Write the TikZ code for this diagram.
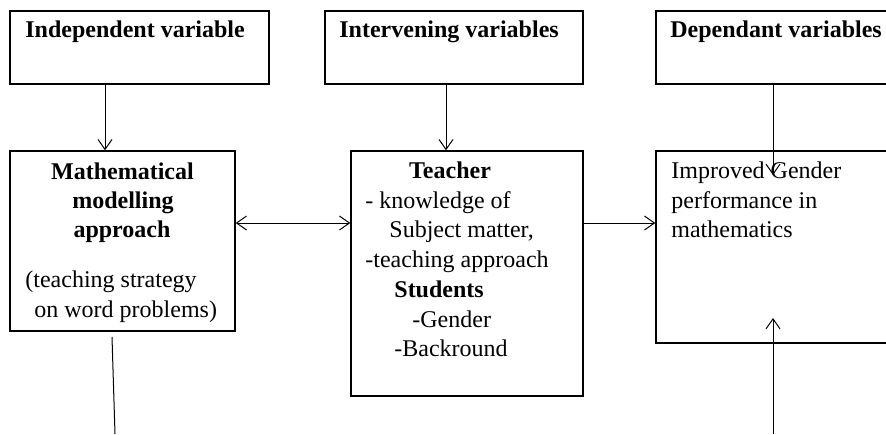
\documentclass[tikz,border=0pt]{standalone}
\usepackage{fontspec}
\setmainfont{Liberation Serif}
\usetikzlibrary{arrows.meta}

\begin{document}
\begin{tikzpicture}
		[x=0.5pt, y=-0.5pt,
		>={Straight Barb[length=5pt,width=7pt]},
		box/.style ={rectangle, draw=black, line width=0.7pt, inner sep=0pt},
		topbox/.style ={box, minimum height=36.5pt},
		txt/.style ={anchor=base west, inner sep=0pt, font=\fontsize{12}{14}\selectfont},
		ctxt/.style ={txt, anchor=base},
		]

		\useasboundingbox (0,0) rectangle (886,434);
		\clip (0,0) rectangle (886,434);

		% boxes
		\draw (139.5,47.5) node[topbox, minimum width=129.5pt] (indep) {};
		\draw (454,47.5) node[topbox, minimum width=129pt] (interv) {};
		\draw (781,47.5) node[topbox, minimum width=125pt] (dep) {};
		\draw (122.5,241) node[box, minimum width=112.5pt, minimum height=90pt] (model) {};
		\draw (467,273.5) node[box, minimum width=116pt, minimum height=122.5pt] (factors) {};
		\draw (781,247) node[box, minimum width=125pt, minimum height=96pt] (perf) {};

		% headings
		\draw (25,37) node[txt] (indepT) {\textbf{Independent variable}};
		\draw (339,37) node[txt] (intervT) {\textbf{Intervening variables}};
		\draw (670,37) node[txt] (depT) {\textbf{Dependant variables}};

		% texts in the boxes
		\draw (122.5,179) node[ctxt] (modelT1) {\textbf{Mathematical}};
		\draw (123,208) node[ctxt] (modelT2) {\textbf{modelling}};
		\draw (122,237) node[ctxt] (modelT3) {\textbf{approach}};
		\draw (25,287) node[txt] (modelT4) {(teaching strategy};
		\draw (34,317) node[txt] (modelT5) {on word problems)};

		\draw (450,178) node[ctxt] (factT1) {\textbf{Teacher}};
		\draw (365,208) node[txt] (factT2) {- knowledge of};
		\draw (389,237) node[txt] (factT3) {Subject matter,};
		\draw (365,267) node[txt] (factT4) {-teaching approach};
		\draw (394,297) node[txt] (factT5) {\textbf{Students}};
		\draw (412,327) node[txt] (factT6) {-Gender};
		\draw (394,356) node[txt] (factT7) {-Backround};

		\draw (671,178) node[txt] (perfT1) {Improved Gender};
		\draw (671,208) node[txt] (perfT2) {performance in};
		\draw (671,237) node[txt] (perfT3) {mathematics};

		% helper points
		\coordinate (colA) at (105,0);
		\coordinate (colB) at (446,0);
		\coordinate (colC) at (773,0);
		\coordinate (rowA) at (0,223);
		\coordinate (perfTop) at (773,175);
		\coordinate (perfBot) at (773,318);
		\coordinate (baseC) at (773,434);
		\coordinate (modelOut) at (112,337);
		\coordinate (baseA) at (115,434);

		\path[->, line width=0.5pt]
		(indep.south -| colA) edge node {} (model.north -| colA)
		(interv.south -| colB) edge node {} (factors.north -| colB)
		(dep.south -| colC) edge node {} (perfTop)
		(factors.east |- rowA) edge node {} (perf.west |- rowA)
		(baseC) edge node {} (perfBot)
		(model.east |- rowA) edge[<->] node {} (factors.west |- rowA);

		\draw[line width=0.5pt] (modelOut) -- (baseA);

	\end{tikzpicture}
\end{document}
